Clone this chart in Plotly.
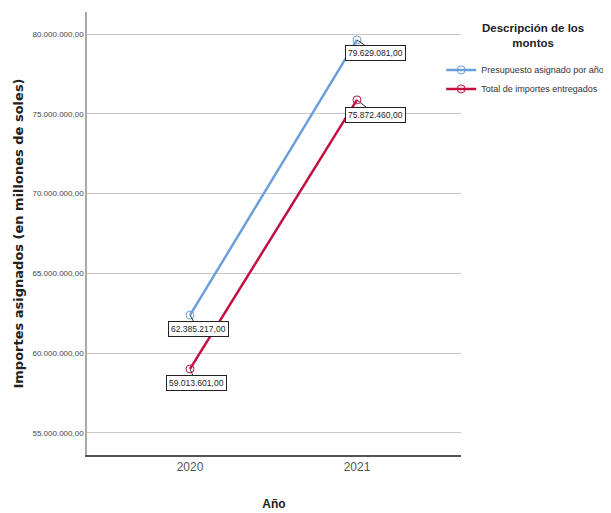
import plotly.graph_objects as go

years = ["2020", "2021"]
presupuesto = [62385217.00, 79629081.00]
entregados = [59013601.00, 75872460.00]
series_names = ["Presupuesto asignado por año", "Total de importes entregados"]
legend_title = "Descripción de los<br>montos"
tick_vals = [55000000, 60000000, 65000000, 70000000, 75000000, 80000000]


def fmt(v):
    s = f"{v:,.2f}"
    return s.replace(",", "X").replace(".", ",").replace("X", ".")


tick_text = [fmt(v) for v in tick_vals]

blue = "#6a9fdc"
red = "#c41040"
FONT = "Liberation Sans, Arial"

fig = go.Figure()
fig.add_trace(go.Scatter(
    x=[0, 1], y=presupuesto, name=series_names[0], mode="lines+markers",
    line=dict(color=blue, width=2.5),
    marker=dict(symbol="circle-open", size=8, color=blue, line=dict(width=1)),
))
fig.add_trace(go.Scatter(
    x=[0, 1], y=entregados, name=series_names[1], mode="lines+markers",
    line=dict(color=red, width=2.5),
    marker=dict(symbol="circle-open", size=8, color=red, line=dict(width=1)),
))

offsets = {(0, 0): (8, 14), (0, 1): (19, 13), (1, 0): (6, 14), (1, 1): (19, 15)}
for si, vals in enumerate([presupuesto, entregados]):
    for xi, v in enumerate(vals):
        ax, ay = offsets[(si, xi)]
        fig.add_annotation(
            x=xi, y=v, xref="x", yref="y", text=fmt(v),
            showarrow=True, arrowhead=0, arrowwidth=1, arrowcolor="#333333",
            ax=ax, ay=ay, bgcolor="white", bordercolor="#222222", borderwidth=1,
            borderpad=2, font=dict(family=FONT, size=8.5, color="#222222"),
        )

fig.add_annotation(
    x=1.193, y=0.946, xref="paper", yref="paper", xanchor="center", yanchor="middle",
    text=f"<b>{legend_title}</b>", showarrow=False, align="center",
    font=dict(family=FONT, size=11.5, color="#222222"),
)

fig.update_layout(
    width=611, height=513,
    margin=dict(l=79, r=158, t=4, b=66, autoexpand=False),
    paper_bgcolor="white", plot_bgcolor="white",
    font=dict(family=FONT, color="#333333"),
    xaxis=dict(
        range=[-0.617, 1.623], tickvals=[0, 1], ticktext=years,
        showgrid=False, showline=True, linecolor="#555555", linewidth=1.5,
        ticks="", tickfont=dict(size=12, color="#555555"),
        title=dict(text="<b>Año</b>", font=dict(size=12, color="#222222"), standoff=26),
        zeroline=False, automargin=False,
    ),
    yaxis=dict(
        range=[53620000, 81380000], tickvals=tick_vals, ticktext=tick_text,
        showgrid=True, gridcolor="#c8c8c8", gridwidth=1,
        showline=True, linecolor="#aaaaaa", linewidth=1.5, ticks="",
        tickfont=dict(size=8, color="#444444"),
        title=dict(text="<b>Importes asignados (en millones de soles)</b>",
                   font=dict(family="DejaVu Sans", size=13, color="#222222"), standoff=6),
        zeroline=False, automargin=False,
    ),
    legend=dict(
        x=0.947, y=0.902, xanchor="left", yanchor="top",
        font=dict(size=9, color="#333333"),
        itemwidth=30, tracegroupgap=0, bgcolor="rgba(0,0,0,0)",
    ),
    showlegend=True,
)

fig.write_html("out.html")
